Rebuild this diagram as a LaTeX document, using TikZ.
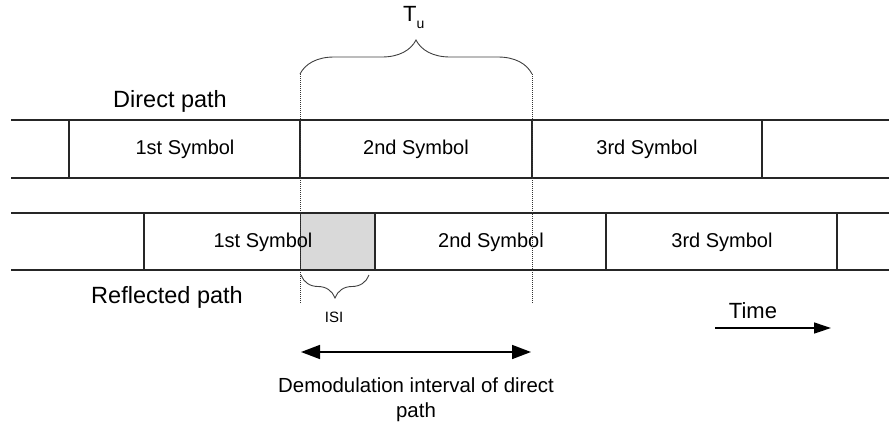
\documentclass[tikz,border=0pt]{standalone}
\usepackage{fontspec}
\setmainfont{Liberation Sans}
\usetikzlibrary{arrows.meta,decorations.pathreplacing}
\tikzset{
  barline/.style={line width=1.3pt, black!85},
  divider/.style={line width=1.3pt, black!85},
  guide/.style={line width=1pt, densely dotted, black!80},
  bracestyle/.style={line width=0.9pt, black!75, decorate},
  lbl/.style={inner sep=0pt, font=\fontsize{20}{24}\selectfont},
  biglbl/.style={inner sep=0pt, font=\fontsize{23.5}{28}\selectfont},
  bigarrow/.style={line width=1.6pt, {Triangle[length=19pt,width=14pt]}-{Triangle[length=19pt,width=14pt]}},
  timearrow/.style={line width=1.3pt, -{Triangle[length=17pt,width=11pt]}},
}
\begin{document}
\begin{tikzpicture}[x=1pt,y=-1pt]
\useasboundingbox (0,0) rectangle (889,426);
% shaded ISI box
\node[draw=black!85, line width=1.3pt, fill=black!15, minimum width=75pt, minimum height=57pt, inner sep=0pt, anchor=north west] (isibox) at (300,213) {};
% direct bar
\draw[barline] (11,120) coordinate (d0) -- (889,120) coordinate (d1);
\draw[barline] (11,178) -- (889,178);
\foreach \x/\n in {69/a,300/b,532/c,762/d} \draw[divider] (\x,120) coordinate (dt\n) -- (\x,178) coordinate (db\n);
% reflected bar
\draw[barline] (11,213) -- (889,213);
\draw[barline] (11,270) -- (889,270);
\foreach \x/\n in {144/a,375/b,606/c,837/d} \draw[divider] (\x,213) coordinate (rt\n) -- (\x,270) coordinate (rb\n);
% symbol labels
\node[lbl] (d1s) at (185,149) {1st Symbol};
\node[lbl] (d2s) at (416,149) {2nd Symbol};
\node[lbl] (d3s) at (647,149) {3rd Symbol};
\node[lbl] (r1s) at (263,242) {1st Symbol};
\node[lbl] (r2s) at (491,242) {2nd Symbol};
\node[lbl] (r3s) at (722,242) {3rd Symbol};
% path labels
\node[biglbl] (direct) at (170,101) {Direct path};
\node[biglbl] (reflected) at (167,297) {Reflected path};
% guides
\coordinate (g1t) at (300,74); \coordinate (g1b) at (300,303);
\coordinate (g2t) at (532,74); \coordinate (g2b) at (532,303);
\draw[guide] (g1t) -- (g1b);
\draw[guide] (g2t) -- (g2b);
% top brace
\draw[bracestyle, decoration={brace, amplitude=34pt, aspect=0.5}] (g1t) -- (g2t);
\node[inner sep=0pt, anchor=base west, font=\fontsize{22}{26}\selectfont] (tu) at (403,21) {T\raisebox{-7pt}{\fontsize{14}{16}\selectfont u}};
% ISI brace
\coordinate (i1) at (301,275); \coordinate (i2) at (369,275);
\draw[bracestyle, decoration={brace, amplitude=23pt, aspect=0.5, mirror}] (i1) -- (i2);
\node[inner sep=0pt, font=\fontsize{15}{18}\selectfont] (isi) at (334,317) {ISI};
% demodulation arrow
\coordinate (a1) at (301,352); \coordinate (a2) at (531,352);
\draw[bigarrow] (a1) -- (a2);
\node[lbl, align=center, font=\fontsize{20.4}{25}\selectfont] (demod) at (416,400) {Demodulation interval of direct\\path};
% time
\coordinate (t1) at (715,328); \coordinate (t2) at (831,328);
\draw[timearrow] (t1) -- (t2);
\node[inner sep=0pt, font=\fontsize{22}{26}\selectfont] (time) at (753,311) {Time};
\end{tikzpicture}
\end{document}
